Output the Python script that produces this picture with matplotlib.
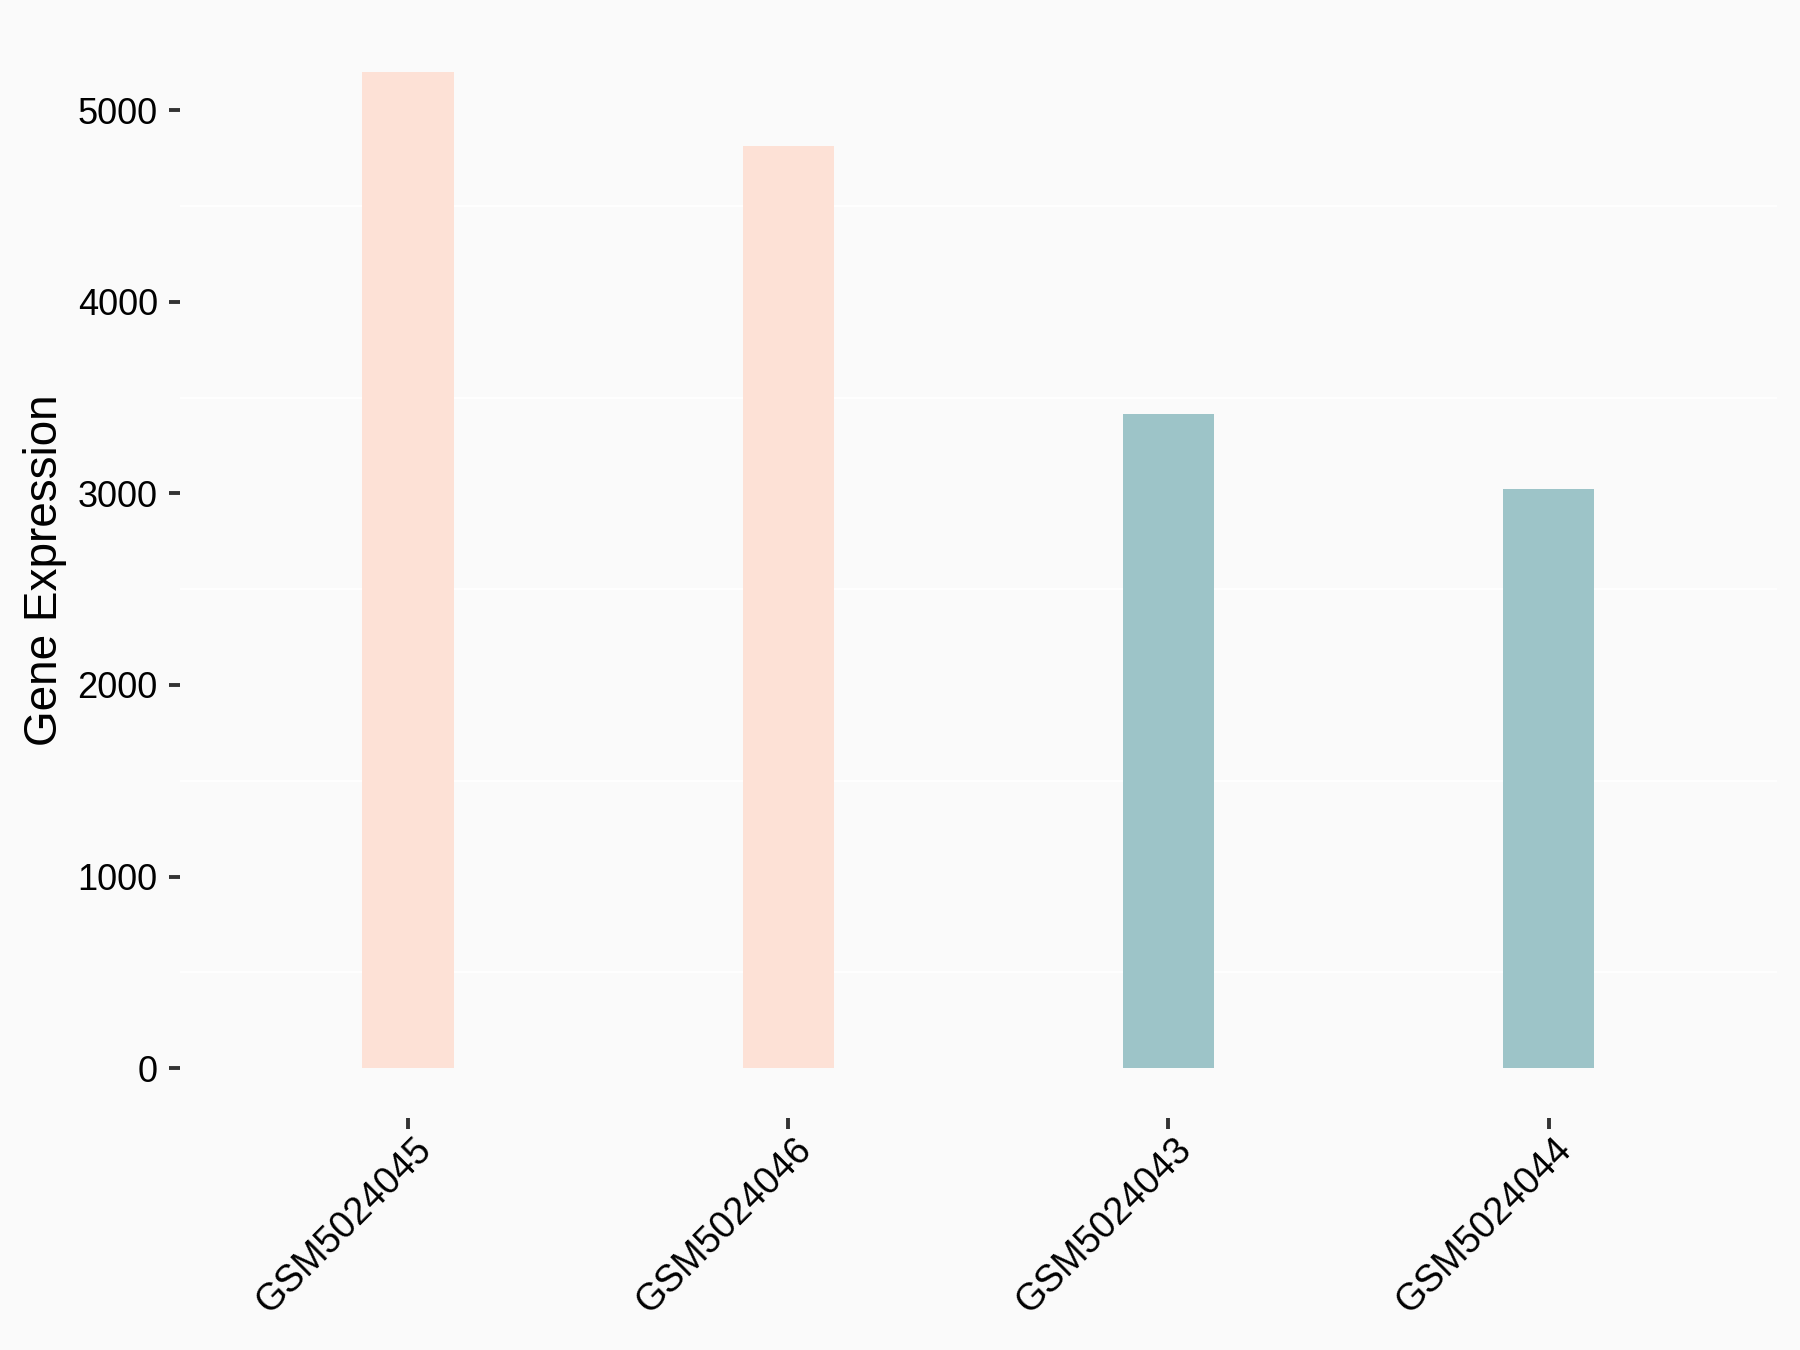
import matplotlib.pyplot as plt
import matplotlib.transforms as mtransforms

plt.rcParams['font.family'] = ['Liberation Sans', 'DejaVu Sans']

# data
samples = ['GSM5024045', 'GSM5024046', 'GSM5024043', 'GSM5024044']
expression = [5200, 4815, 3415, 3020]
bar_colors = ['#FDE1D6', '#FDE1D6', '#9DC4C8', '#9DC4C8']
y_ticks = [0, 1000, 2000, 3000, 4000, 5000]
y_minor = [500, 1500, 2500, 3500, 4500]

bg = '#FAFAFA'
fig = plt.figure(figsize=(18, 13.5), dpi=100, facecolor=bg)
ax = fig.add_axes([0.1, 0.1719, 0.887, 0.8118], facecolor=bg)

x = list(range(1, len(samples) + 1))
ax.bar(x, expression, width=0.24, color=bar_colors, zorder=2)

ax.set_xlim(0.4, 4.6)
ax.set_ylim(-260, 5460)

# white minor gridlines only
for v in y_minor:
    ax.axhline(v, color='white', linewidth=1.2, zorder=1)

for s in ax.spines.values():
    s.set_visible(False)

ax.set_yticks(y_ticks)
ax.set_yticklabels([str(v) for v in y_ticks])
ax.set_xticks(x)
ax.set_xticklabels(samples, rotation=45, ha='right', va='top', rotation_mode='anchor')

ax.tick_params(axis='both', colors='#333333', length=8, width=2.8, labelcolor='black')
ax.tick_params(axis='y', labelsize=26, pad=8)
ax.tick_params(axis='x', labelsize=27, pad=2)

offset = mtransforms.ScaledTranslation(0.05, 0, fig.dpi_scale_trans)
for lab in ax.get_xticklabels():
    lab.set_transform(lab.get_transform() + offset)

ax.set_ylabel('Gene Expression', fontsize=33)
ax.yaxis.set_label_coords(-0.071, 0.5)

fig.savefig('out.png', facecolor=bg)
